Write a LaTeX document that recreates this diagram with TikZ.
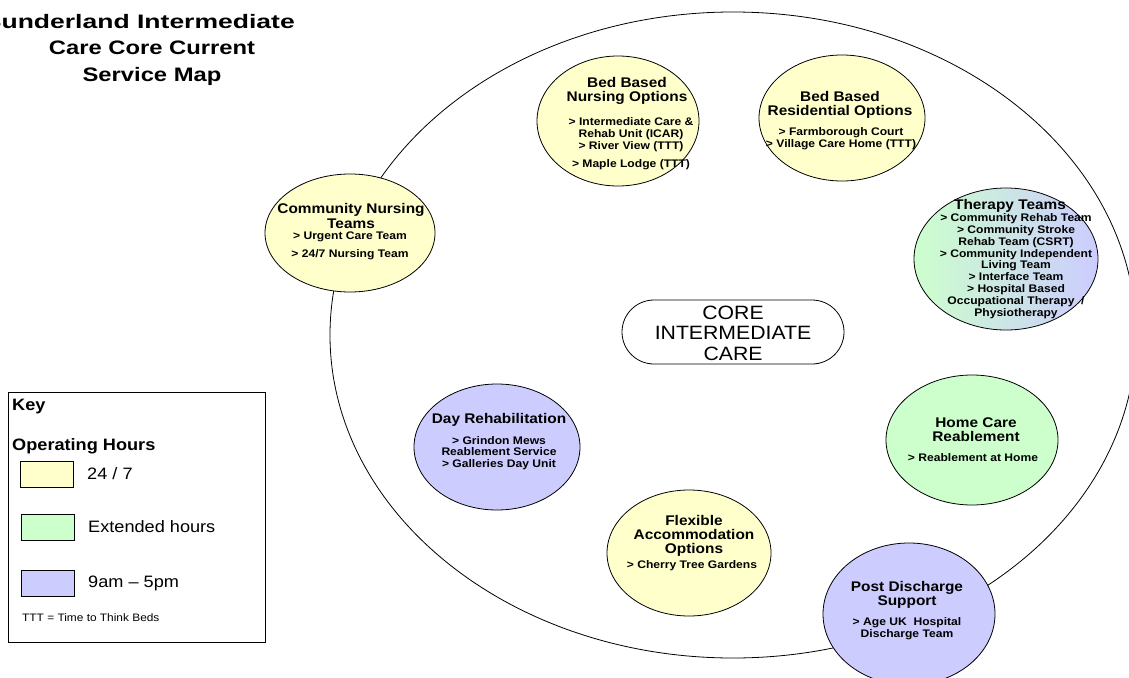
\documentclass[tikz,border=0pt]{standalone}
\usepackage{fontspec}
\setmainfont[FakeStretch=1.1]{Liberation Sans}
\newfontfamily\titleA[FakeStretch=1.36]{Liberation Sans}
\newfontfamily\titleB[FakeStretch=1.22]{Liberation Sans}
\usetikzlibrary{shapes.geometric}
\definecolor{kyellow}{HTML}{FFFFCC}
\definecolor{kgreen}{HTML}{CCFFCC}
\definecolor{kblue}{HTML}{CCCCFF}
\tikzset{
  bubble/.style={ellipse, draw=black, line width=0.8pt, inner sep=0pt},
  head/.style={font=\fontsize{14}{14.2}\selectfont\bfseries, align=center, inner sep=0pt},
  item/.style={font=\fontsize{11}{11.8}\selectfont\bfseries, align=center, inner sep=0pt},
  keytxt/.style={font=\fontsize{16.5}{18}\selectfont, anchor=west, inner sep=0pt},
  keybox/.style={draw=black, line width=0.6pt, minimum width=53pt, minimum height=26pt, inner sep=0pt, anchor=north west}
}
\begin{document}
\begin{tikzpicture}[x=1pt,y=-1pt]
\useasboundingbox (0,0) rectangle (1129,677);
% title
\node[font=\fontsize{19.5}{24}\selectfont\bfseries\titleA, anchor=east, inner sep=0pt] (title1) at (295,22) {Sunderland Intermediate};
\node[font=\fontsize{19.5}{27}\selectfont\bfseries\titleB, align=center, inner sep=0pt] (title2) at (152,63) {Care Core Current\\Service Map};
% big ellipse
\node[ellipse, draw=black, line width=0.8pt, inner sep=0pt, minimum width=806pt, minimum height=646pt] (outer) at (733,335) {};
% core
\node[draw=black, line width=0.8pt, rounded corners=32pt, minimum width=222pt, minimum height=64pt, inner sep=0pt] (core) at (733,332) {};
\node[font=\fontsize{19.3}{20.5}\selectfont, align=center, inner sep=0pt] (coreT) at (733,333) {CORE\\INTERMEDIATE\\CARE};
% Bed based nursing
\node[bubble, fill=kyellow, minimum width=162pt, minimum height=130pt] (bn) at (618,121) {};
\node[head] (bnH) at (627,91) {Bed Based\\Nursing Options};
\node[item] (bnI) at (631,143.5) {> Intermediate Care \&\\Rehab Unit (ICAR)\\> River View (TTT)\\[6pt]> Maple Lodge (TTT)};
% Bed based residential
\node[bubble, fill=kyellow, minimum width=166pt, minimum height=126pt] (br) at (842,118) {};
\node[head] (brH) at (840,104.5) {Bed Based\\Residential Options};
\node[item] (brI) at (841,139) {> Farmborough Court\\> Village Care Home (TTT)};
% Community nursing
\node[bubble, fill=kyellow, minimum width=170pt, minimum height=118pt] (cn) at (350,233) {};
\node[head] (cnH) at (351,216) {Community Nursing\\Teams};
\node[item] (cnI) at (350,245.5) {> Urgent Care Team\\[6pt]> 24/7 Nursing Team};
% Therapy teams
\node[bubble, left color=kgreen, right color=kblue, minimum width=184pt, minimum height=142pt] (tt) at (1006,259) {};
\node[head] (ttH) at (1010,206) {Therapy Teams};
\node[item] (ttI) at (1016,266) {> Community Rehab Team\\> Community Stroke\\Rehab Team (CSRT)\\> Community Independent\\Living Team\\> Interface Team\\> Hospital Based\\Occupational Therapy \ /\\Physiotherapy};
% Day rehabilitation
\node[bubble, fill=kblue, minimum width=166pt, minimum height=126pt] (dr) at (497,447) {};
\node[head] (drH) at (499,420) {Day Rehabilitation};
\node[item] (drI) at (499,453) {> Grindon Mews\\Reablement Service\\> Galleries Day Unit};
% Home care reablement
\node[bubble, fill=kgreen, minimum width=172pt, minimum height=130pt] (hc) at (972,440) {};
\node[head] (hcH) at (976,430) {Home Care\\Reablement};
\node[item] (hcI) at (973,458) {> Reablement at Home};
% Flexible accommodation
\node[bubble, fill=kyellow, minimum width=164pt, minimum height=126pt] (fa) at (689,553) {};
\node[head] (faH) at (694,536) {Flexible\\Accommodation\\Options};
\node[item] (faI) at (692,566) {> Cherry Tree Gardens};
% Post discharge
\node[bubble, fill=kblue, minimum width=172pt, minimum height=142pt] (pd) at (909,614) {};
\node[head] (pdH) at (907,594.5) {Post Discharge\\Support};
\node[item] (pdI) at (907,629) {> Age UK \ Hospital\\Discharge Team};
% Key
\node[draw=black, line width=0.8pt, minimum width=257pt, minimum height=250pt, inner sep=0pt, anchor=north west] (key) at (8,392) {};
\node[keytxt, font=\fontsize{16.5}{18}\selectfont\bfseries] (keyT) at (12,407) {Key};
\node[keytxt, font=\fontsize{16.5}{18}\selectfont\bfseries] (ohT) at (12,446) {Operating Hours};
\node[keybox, fill=kyellow] (k1) at (20,461) {};
\node[keytxt] (k1T) at (87,474) {24 / 7};
\node[keybox, fill=kgreen] (k2) at (21,514) {};
\node[keytxt] (k2T) at (88,527) {Extended hours};
\node[keybox, fill=kblue] (k3) at (21,570) {};
\node[keytxt] (k3T) at (88,583) {9am – 5pm};
\node[keytxt, font=\fontsize{10.8}{12}\selectfont] (tttT) at (22,618) {TTT = Time to Think Beds};
\end{tikzpicture}
\end{document}
